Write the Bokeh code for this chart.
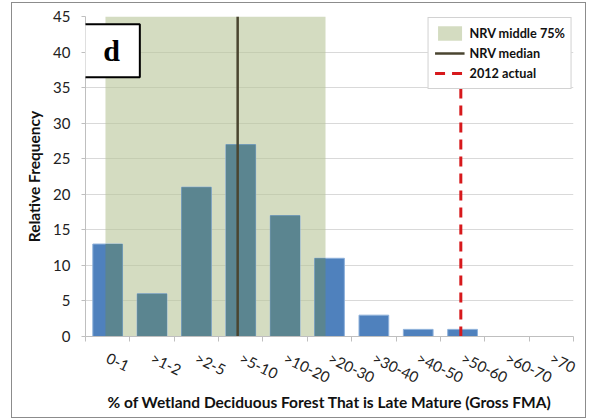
import numpy as np
from bokeh.plotting import figure
from bokeh.models import Range1d, FixedTicker, Label, Legend, LegendItem
from bokeh.embed import file_html
from bokeh.resources import INLINE

categories = ["0-1", ">1-2", ">2-5", ">5-10", ">10-20", ">20-30", ">30-40", ">40-50", ">50-60", ">60-70", ">70"]
frequency = [13, 6, 21, 27, 17, 11, 3, 1, 1, 0, 0]
# positions on the bin axis (bin index units)
nrv_middle75 = [0.45, 5.41]
nrv_median = 3.43
actual_2012 = 8.46
y_ticks = [0, 5, 10, 15, 20, 25, 30, 35, 40, 45]

n = len(categories)
ymax = y_ticks[-1]
centers = np.arange(n) + 0.5
bar_w = 0.67

p = figure(width=573, height=414, output_backend="svg", toolbar_location=None,
           x_range=Range1d(0, n), y_range=Range1d(0, ymax),
           min_border_left=73, min_border_right=12, min_border_top=13, min_border_bottom=81)
p.styles = {"margin-left": "12px", "margin-top": "3px",
            "box-shadow": "0 0 0 1px #8c8c8c"}
p.outline_line_color = None
p.background_fill_color = "white"

# shaded middle 75%
shade = p.quad(left=[nrv_middle75[0]], right=[nrv_middle75[1]], bottom=[0], top=[ymax],
               fill_color="#B7C598", fill_alpha=0.6, line_color=None)

# bars
left = centers - bar_w / 2
right = centers + bar_w / 2
p.quad(left=left, right=right, bottom=0, top=frequency,
       fill_color="#4F81BD", line_color="#8DB0DA", line_width=1)
il = np.maximum(left, nrv_middle75[0])
ir = np.minimum(right, nrv_middle75[1])
mask = ir > il
p.quad(left=il[mask], right=ir[mask], bottom=0, top=np.array(frequency)[mask],
       fill_color="#5B8590", line_color=None)

med = p.line(x=[nrv_median, nrv_median], y=[0, ymax], line_color="#4A4530", line_width=2.5)
act = p.line(x=[actual_2012, actual_2012], y=[0, ymax], line_color="#D7191C",
             line_width=3, line_dash="10 7")

# axes
p.xaxis.ticker = FixedTicker(ticks=list(centers), minor_ticks=list(range(n + 1)))
p.xaxis.major_label_overrides = {float(c): lab for c, lab in zip(centers, categories)}
p.xaxis.major_tick_line_color = None
p.xaxis.major_tick_out = 5
p.xaxis.major_tick_in = 0
p.xaxis.minor_tick_line_color = "#BFBFBF"
p.xaxis.minor_tick_out = 5
p.xaxis.minor_tick_in = 0
p.xaxis.major_label_orientation = -0.45
p.xaxis.major_label_standoff = 15
p.xaxis.axis_line_color = "#BFBFBF"
p.xaxis.axis_label = "% of Wetland Deciduous Forest That is Late Mature (Gross FMA)"
p.xaxis.axis_label_standoff = -4

p.yaxis.ticker = FixedTicker(ticks=y_ticks)
p.yaxis.minor_tick_line_color = None
p.yaxis.major_tick_out = 4
p.yaxis.major_tick_in = 0
p.yaxis.major_tick_line_color = "#BFBFBF"
p.yaxis.axis_line_color = "#BFBFBF"
p.yaxis.major_label_standoff = 11
p.yaxis.axis_label = "Relative Frequency"
p.yaxis.axis_label_standoff = 7

for ax in (p.xaxis, p.yaxis):
    ax.major_label_text_font = "Lato"
    ax.major_label_text_font_size = "15px"
    ax.major_label_text_color = "#222222"
    ax.axis_label_text_font = "Lato"
    ax.axis_label_text_font_size = "15.5px"
    ax.axis_label_text_font_style = "bold"
    ax.axis_label_text_color = "#111111"

p.xgrid.grid_line_color = None
p.ygrid.ticker = FixedTicker(ticks=y_ticks)
p.ygrid.grid_line_color = "#D9D9D9"

# panel label "d"
p.add_layout(Label(x=0.586, y=40.2, text="d", text_align="center", text_baseline="middle",
                   text_font="Liberation Serif", text_font_style="bold", text_font_size="30px",
                   text_color="black", background_fill_color="white",
                   border_line_color="black", border_line_width=2, padding=(20, 10)))

legend = Legend(items=[LegendItem(label="NRV middle 75%", renderers=[shade]),
                       LegendItem(label="NRV median", renderers=[med]),
                       LegendItem(label="2012 actual", renderers=[act])],
                location="top_right", margin=1, padding=6, spacing=2,
                glyph_width=30, glyph_height=18, label_standoff=5,
                label_text_font="Lato", label_text_font_size="12.7px",
                label_text_font_style="bold", label_text_color="#111111",
                border_line_color="#A6A6A6", border_line_width=1,
                background_fill_color="white", background_fill_alpha=1)
p.add_layout(legend)

open("out.html", "w").write(file_html(p, INLINE))
